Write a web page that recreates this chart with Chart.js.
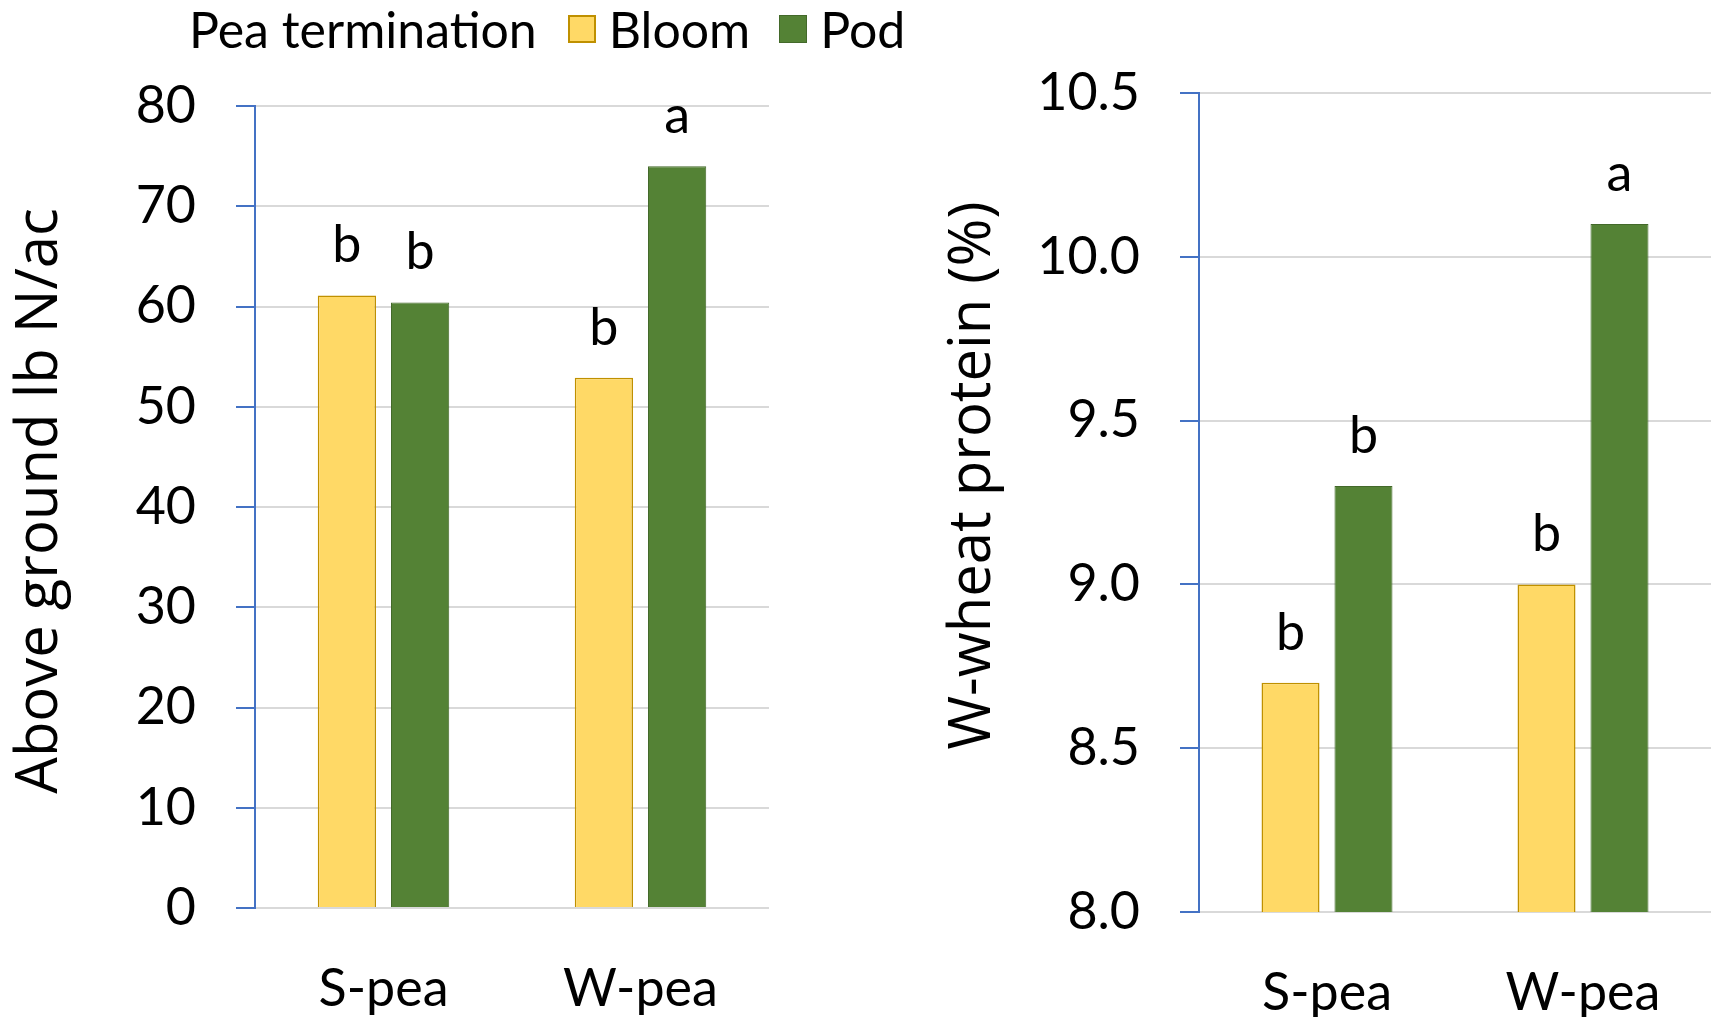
<!DOCTYPE html>
<html>
<head>
<meta charset="utf-8">
<script src="https://cdn.jsdelivr.net/npm/chart.js@4"></script>
<style>
  body { margin: 0; width: 1715px; height: 1017px; background: #fff; position: relative; overflow: hidden; }
  #legend {
    position: absolute; left: 189px; top: 1px; height: 56px;
    display: flex; align-items: center;
    font-family: Lato, 'Open Sans', sans-serif; font-size: 50px; color: #000;
  }
  #legend .box { width: 28px; height: 28px; margin: 0 13px 0 0; box-sizing: border-box; }
  #legend .item { display: flex; align-items: center; }
  #left { position: absolute; left: 0; top: 0; width: 790px; height: 1017px; }
  #right { position: absolute; left: 900px; top: 0; width: 815px; height: 1017px; }
</style>
</head>
<body>
<div id="legend"></div>
<div id="left"><canvas id="chartN"></canvas></div>
<div id="right"><canvas id="chartP"></canvas></div>
<script>
const categories = ["S-pea", "W-pea"];
const seriesNames = ["Bloom", "Pod"];

// above ground N, lb N/ac
const nitrogenBloom = [61.1, 52.9];
const nitrogenPod = [60.4, 74.0];
const nitrogenBloomLetters = ["b", "b"];
const nitrogenPodLetters = ["b", "a"];

// W-wheat protein, %
const proteinBloom = [8.7, 9.0];
const proteinPod = [9.3, 10.1];
const proteinBloomLetters = ["b", "b"];
const proteinPodLetters = ["b", "a"];

const nitrogenTicks = { min: 0, max: 80, step: 10 };
const proteinTicks = { min: 8, max: 10.5, step: 0.5 };

const narrow = "Lato, 'Open Sans', sans-serif";
const colors = {
  bloom: "#FFD966", bloomEdge: "#BF9000",
  pod: "#548235", podEdge: "#43692A",
  axis: "#4472C4", grid: "#D9D9D9"
};

// LEGEND
const legend = document.getElementById("legend");
legend.innerHTML = `
  <span>Pea termination</span>
  <span class="item" style="margin-left:31px"><span class="box" style="background:${colors.bloom};border:2px solid ${colors.bloomEdge}"></span>${seriesNames[0]}</span>
  <span class="item" style="margin-left:29px"><span class="box" style="background:${colors.pod};border:1px solid ${colors.podEdge}"></span>${seriesNames[1]}</span>
`;

// letters above bars
const letterPlugin = {
  id: "letters",
  afterDatasetsDraw(chart) {
    const ctx = chart.ctx;
    ctx.save();
    ctx.font = "52px " + narrow;
    ctx.fillStyle = "#000";
    ctx.textAlign = "center";
    ctx.textBaseline = "alphabetic";
    chart.data.datasets.forEach((ds, i) => {
      chart.getDatasetMeta(i).data.forEach((bar, j) => {
        ctx.fillText(ds.letters[j], bar.x, bar.y - 33);
      });
    });
    ctx.restore();
  }
};

// y axis title, drawn so it can sit a bit off the axis centre
const yTitlePlugin = {
  id: "yTitle",
  afterDraw(chart, args, opts) {
    const y = chart.scales.y;
    const ctx = chart.ctx;
    ctx.save();
    ctx.translate(opts.x, (y.top + y.bottom) / 2 + opts.shift);
    ctx.rotate(-Math.PI / 2);
    ctx.font = "58px 'Open Sans', sans-serif";
    ctx.fillStyle = "#000";
    ctx.textAlign = "center";
    ctx.textBaseline = "middle";
    ctx.fillText(opts.text, 0, 0);
    ctx.restore();
  }
};

function makeChart(id, bloom, pod, bloomLetters, podLetters, ticks, cfg) {
  return new Chart(document.getElementById(id), {
    type: "bar",
    data: {
      labels: categories,
      datasets: [
        { label: seriesNames[0], data: bloom, letters: bloomLetters,
          backgroundColor: colors.bloom, borderColor: colors.bloomEdge, borderWidth: 1.5,
          categoryPercentage: 0.57, barPercentage: 0.795 },
        { label: seriesNames[1], data: pod, letters: podLetters,
          backgroundColor: colors.pod, borderColor: colors.podEdge, borderWidth: 1,
          categoryPercentage: 0.57, barPercentage: 0.795 }
      ]
    },
    options: {
      responsive: true,
      maintainAspectRatio: false,
      animation: false,
      layout: { padding: { top: cfg.top, right: cfg.right, left: 0, bottom: 0 } },
      plugins: {
        legend: { display: false },
        tooltip: { enabled: false },
        yTitle: { text: cfg.title, x: cfg.titleX, shift: cfg.titleShift }
      },
      scales: {
        x: {
          grid: { display: false, drawTicks: false },
          border: { display: false },
          ticks: { color: "#000", font: { family: narrow, size: 52 }, padding: cfg.xPad },
          afterFit(s) { s.height = cfg.xHeight; }
        },
        y: {
          min: ticks.min, max: ticks.max,
          ticks: {
            stepSize: ticks.step, color: "#000", padding: 40,
            font: { family: narrow, size: 52 },
            callback: v => cfg.decimals ? v.toFixed(cfg.decimals) : v
          },
          grid: { color: colors.grid, lineWidth: 2, tickColor: colors.axis, tickLength: 19, tickWidth: 2 },
          border: { color: colors.axis, width: 2 },
          afterFit(s) { s.width = cfg.yWidth; }
        }
      }
    },
    plugins: [letterPlugin, yTitlePlugin]
  });
}

makeChart("chartN", nitrogenBloom, nitrogenPod, nitrogenBloomLetters, nitrogenPodLetters, nitrogenTicks,
  { title: "Above ground lb N/ac", top: 106, right: 21, xHeight: 109, xPad: 50, yWidth: 255, titleX: 40, titleShift: -6, decimals: 0 });

makeChart("chartP", proteinBloom, proteinPod, proteinBloomLetters, proteinPodLetters, proteinTicks,
  { title: "W-wheat protein (%)", top: 93, right: 4, xHeight: 105, xPad: 50, yWidth: 299, titleX: 73, titleShift: -27, decimals: 1 });
</script>
</body>
</html>
